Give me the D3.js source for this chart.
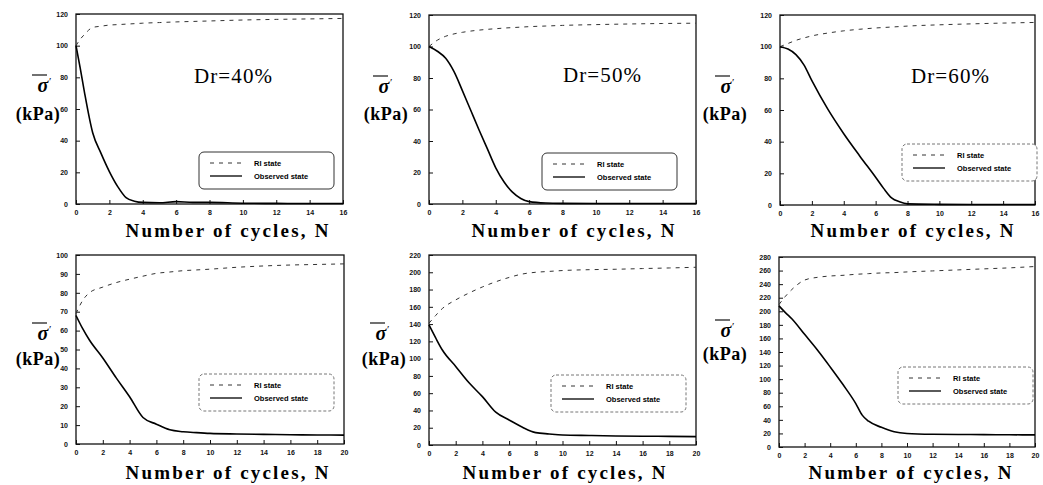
<!DOCTYPE html>
<html>
<head>
<meta charset="utf-8">
<script src="https://cdnjs.cloudflare.com/ajax/libs/d3/7.8.5/d3.min.js"></script>
<style>
  body { margin: 0; background: #fff; }
  svg { display: block; }
  .tick text { font-family: "Liberation Sans", Arial, sans-serif; font-weight: bold; font-size: 7px; fill: #111; }
  .tick line { stroke: #111; }
</style>
</head>
<body>
<div id="chart"></div>
<script>
// values
var drLabels = ["Dr=40%", "Dr=50%", "Dr=60%", "", "", ""];
var legendLabels = ["RI state", "Observed state"];
var xLabel = "Number of cycles, N";

var cyclesA = [0, 0.25, 0.5, 1, 1.5, 2, 2.5, 3, 3.5, 4, 5, 6, 7, 8, 10, 12, 14, 16];
var riA     = [100, 104, 107, 111.5, 112.3, 113, 113.3, 113.6, 113.9, 114.2, 114.6, 115, 115.3, 115.6, 116.2, 116.6, 116.9, 117.2];
var obsA    = [100, 86, 71, 45, 32, 20.5, 11, 4, 1.8, 1, 0.8, 1.5, 1, 1, 0.5, 0.4, 0.3, 0.3];

var cyclesB = [0, 0.5, 1, 1.5, 2, 2.5, 3, 3.5, 4, 4.5, 5, 5.5, 6, 7, 8, 10, 12, 14, 16];
var riB     = [100, 104, 106.5, 108, 109, 109.8, 110.4, 110.9, 111.3, 111.7, 112, 112.3, 112.6, 113, 113.4, 113.9, 114.3, 114.6, 114.8];
var obsB    = [100, 97, 92.5, 84, 72, 59.5, 47, 35, 23, 14, 7.5, 3.5, 1.5, 0.6, 0.4, 0.3, 0.3, 0.3, 0.3];

var cyclesC = [0, 0.5, 1, 1.5, 2, 3, 4, 5, 6, 6.5, 7, 7.5, 8, 10, 12, 14, 16];
var riC     = [100, 102, 104, 105.5, 106.8, 108.6, 110, 111, 111.8, 112.1, 112.4, 112.7, 113, 113.8, 114.4, 114.9, 115.3];
var obsC    = [100, 98.5, 95, 88.5, 78.5, 60.5, 45, 31, 17.5, 10.5, 4.5, 2, 0.7, 0.4, 0.3, 0.3, 0.3];

var cyclesD = [0, 0.5, 1, 2, 3, 4, 5, 6, 7, 8, 9, 10, 12, 14, 16, 18, 20];
var riD     = [69, 76, 80, 83, 85.4, 87.2, 88.8, 90.3, 91, 91.7, 92.1, 92.5, 93.5, 94.2, 94.7, 95, 95.3];
var obsD    = [68, 61, 55, 45.5, 35, 25, 14, 10.5, 7.5, 6.5, 6, 5.6, 5.3, 5.1, 4.9, 4.8, 4.7];

var cyclesE = [0, 0.5, 1, 2, 3, 4, 5, 6, 7, 8, 9, 10, 12, 14, 16, 18, 20];
var riE     = [141, 150, 158, 168, 176, 183, 189, 194, 198, 200, 201, 202, 203, 203.5, 204.3, 205, 205.8];
var obsE    = [139, 124, 110, 91, 72, 56, 38, 29, 20.5, 14.3, 12.8, 11.6, 11, 10.5, 10.2, 10, 9.7];

var cyclesF = [0, 0.5, 1, 2, 3, 4, 5, 6, 6.5, 7, 8, 9, 10, 12, 14, 16, 18, 20];
var riF     = [210, 222, 232, 246, 250, 252, 253, 254.5, 255, 255.5, 256.5, 257, 258, 259.5, 261, 262.5, 264, 266];
var obsF    = [208, 198, 189, 166, 143, 118, 92, 64, 47, 38, 29, 22.5, 20, 18.8, 18.5, 18.2, 18, 17.8];

var xMaxes  = [16, 16, 16, 20, 20, 20];
var yMaxes  = [120, 120, 120, 100, 220, 280];
var ySteps  = [20, 20, 20, 10, 20, 20];

var cycles = [cyclesA, cyclesB, cyclesC, cyclesD, cyclesE, cyclesF];
var riSeries = [riA, riB, riC, riD, riE, riF];
var obsSeries = [obsA, obsB, obsC, obsD, obsE, obsF];

// layout of the six panels (pixels)
var panels = [
  {l: 76,  t: 14,  r: 343,  b: 204, sx: 43,  kx: 38,  sy: 92,  ky: 120, lg: [199, 152], lgDash: false, xl: 227, xly: 237, dr: [233, 83]},
  {l: 429, t: 15,  r: 696,  b: 204, sx: 384, kx: 386, sy: 93,  ky: 120, lg: [542, 153], lgDash: false, xl: 573, xly: 237, dr: [602, 82]},
  {l: 780, t: 15,  r: 1035, b: 205, sx: 726, kx: 725, sy: 93,  ky: 120, lg: [902, 144], lgDash: true,  xl: 912, xly: 237, dr: [950, 83]},
  {l: 76,  t: 255, r: 344,  b: 444, sx: 43,  kx: 38,  sy: 340, ky: 365, lg: [199, 374], lgDash: true,  xl: 227, xly: 479, dr: null},
  {l: 429, t: 255, r: 696,  b: 445, sx: 381, kx: 384, sy: 340, ky: 365, lg: [551, 375], lgDash: true,  xl: 564, xly: 479, dr: null},
  {l: 779, t: 257, r: 1035, b: 447, sx: 726, kx: 725, sy: 337, ky: 360, lg: [898, 367], lgDash: true,  xl: 910, xly: 479, dr: null}
];

var svg = d3.select("#chart")
  .append("svg")
    .attr("width", 1043)
    .attr("height", 485);

panels.forEach(function(p, i) {
  var x = d3.scaleLinear().domain([0, xMaxes[i]]).range([p.l, p.r]);
  var y = d3.scaleLinear().domain([0, yMaxes[i]]).range([p.b, p.t]);
  var g = svg.append("g");

  // axes, ticks pointing inward
  var xAx = g.append("g")
    .attr("transform", "translate(0," + p.b + ")")
    .call(d3.axisBottom(x).tickValues(d3.range(0, xMaxes[i] + 1, 2)).tickSizeInner(-4).tickSizeOuter(0).tickPadding(6));
  xAx.select(".domain").remove();

  var yAx = g.append("g")
    .attr("transform", "translate(" + p.l + ",0)")
    .call(d3.axisLeft(y).tickValues(d3.range(0, yMaxes[i] + 1, ySteps[i])).tickSizeInner(-4).tickSizeOuter(0).tickPadding(8));
  yAx.select(".domain").remove();

  // frame
  g.append("rect")
    .attr("x", p.l).attr("y", p.t)
    .attr("width", p.r - p.l).attr("height", p.b - p.t)
    .attr("fill", "none").attr("stroke", "#111").attr("stroke-width", 1.3);

  var line = d3.line()
    .x(function(d, k) { return x(cycles[i][k]); })
    .y(function(d) { return y(d); })
    .curve(d3.curveMonotoneX);

  g.append("path")
    .datum(riSeries[i])
    .attr("fill", "none")
    .attr("stroke", "#333")
    .attr("stroke-width", 1)
    .attr("stroke-dasharray", "4,5")
    .attr("d", line);

  g.append("path")
    .datum(obsSeries[i])
    .attr("fill", "none")
    .attr("stroke", "#000")
    .attr("stroke-width", 1.6)
    .attr("d", line);

  // legend
  var lg = g.append("g").attr("transform", "translate(" + p.lg[0] + "," + p.lg[1] + ")");
  lg.append("rect")
    .attr("width", 135).attr("height", 37).attr("rx", 5)
    .attr("fill", "#fff")
    .attr("stroke", p.lgDash ? "#777" : "#333")
    .attr("stroke-width", 1)
    .attr("stroke-dasharray", p.lgDash ? "3,2" : null);
  lg.append("line").attr("x1", 11).attr("x2", 43).attr("y1", 11).attr("y2", 11)
    .attr("stroke", "#333").attr("stroke-dasharray", "4,5");
  lg.append("line").attr("x1", 11).attr("x2", 43).attr("y1", 24).attr("y2", 24)
    .attr("stroke", "#000").attr("stroke-width", 1.3);
  lg.selectAll("text.leg")
    .data(legendLabels)
    .enter().append("text")
      .attr("class", "leg")
      .attr("x", 55)
      .attr("y", function(d, k) { return 13.5 + k * 13; })
      .style("font-family", "Liberation Sans, Arial, sans-serif")
      .style("font-weight", "bold")
      .style("font-size", "7.5px")
      .text(function(d) { return d; });

  // y label: sigma with bar and prime, then (kPa)
  g.append("line")
    .attr("x1", p.sx - 11).attr("x2", p.sx + 4)
    .attr("y1", p.sy - 17).attr("y2", p.sy - 17)
    .attr("stroke", "#111").attr("stroke-width", 1.2);
  g.append("text")
    .attr("x", p.sx).attr("y", p.sy)
    .attr("text-anchor", "middle")
    .style("font-family", "Liberation Serif, Times New Roman, serif")
    .style("font-style", "italic").style("font-weight", "bold")
    .style("font-size", "20px")
    .text("σ");
  g.append("text")
    .attr("x", p.sx + 6).attr("y", p.sy - 7)
    .style("font-family", "Liberation Serif, serif")
    .style("font-size", "11px")
    .text("′");
  g.append("text")
    .attr("x", p.kx).attr("y", p.ky)
    .attr("text-anchor", "middle")
    .style("font-family", "Liberation Serif, Times New Roman, serif")
    .style("font-weight", "bold")
    .style("font-size", "18px")
    .style("letter-spacing", "0.5px")
    .text("(kPa)");

  // x label
  g.append("text")
    .attr("x", p.xl).attr("y", p.xly)
    .attr("text-anchor", "middle")
    .attr("textLength", 203)
    .attr("lengthAdjust", "spacing")
    .style("font-family", "Liberation Serif, Times New Roman, serif")
    .style("font-weight", "bold")
    .style("font-size", "19px")
    .text(xLabel);

  if (p.dr) {
    g.append("text")
      .attr("x", p.dr[0]).attr("y", p.dr[1])
      .attr("text-anchor", "middle")
      .attr("textLength", 78)
      .attr("lengthAdjust", "spacing")
      .style("font-family", "Liberation Serif, Times New Roman, serif")
      .style("font-size", "21px")
      .text(drLabels[i]);
  }
});
</script>
</body>
</html>
